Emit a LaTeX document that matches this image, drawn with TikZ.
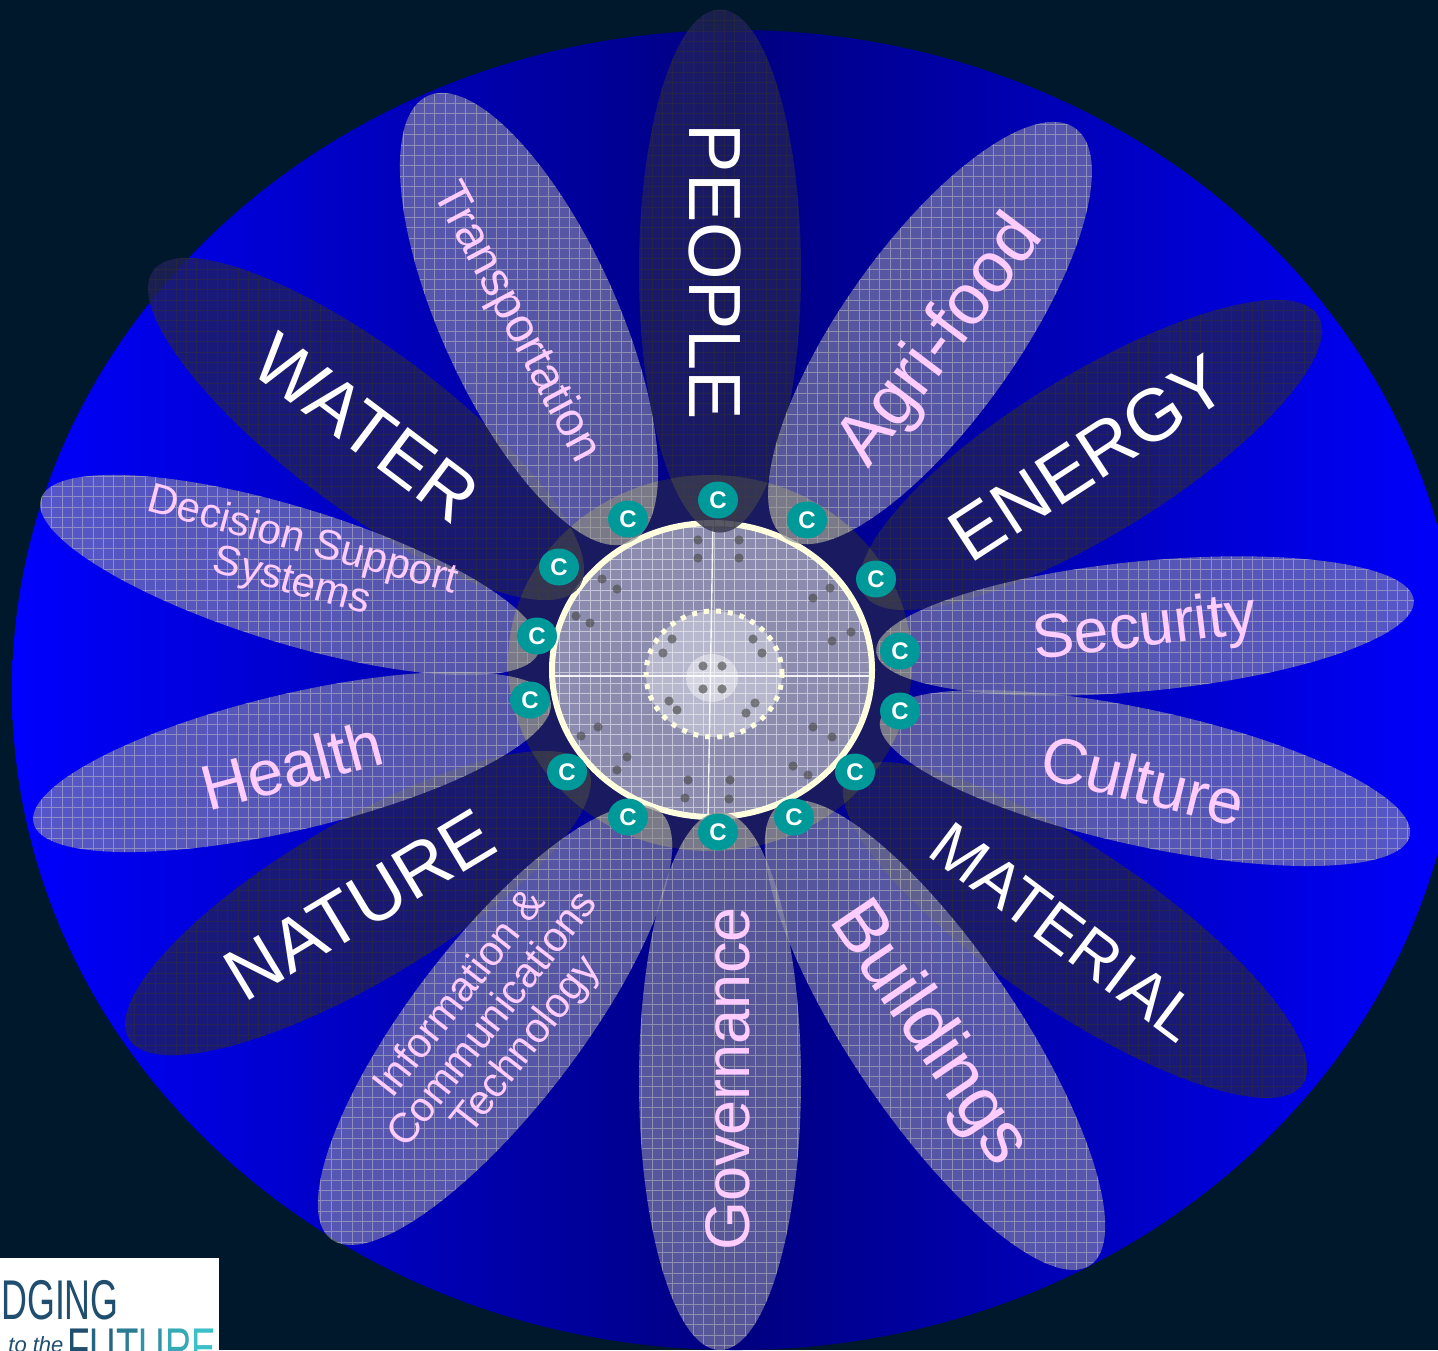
\documentclass[tikz,border=0pt]{standalone}
\usepackage{fontspec}
\setmainfont{Liberation Sans}
\usetikzlibrary{shapes.geometric}
\definecolor{nightbg}{HTML}{00182C}
\definecolor{navydisc}{HTML}{1A1A60}
\definecolor{tealdot}{HTML}{009999}
\definecolor{creamline}{HTML}{FFFFE0}
\definecolor{pinktext}{HTML}{FFCCFF}
\definecolor{logoblue}{HTML}{1F4E6E}
\definecolor{logocyan}{HTML}{3CC0C8}
\definecolor{lightfill}{HTML}{9090A8}
\definecolor{darkfill}{HTML}{22225A}
\definecolor{lightgrid}{HTML}{D0D0C8}
\definecolor{darkgrid}{HTML}{303030}
\definecolor{ringlight}{HTML}{A0A088}
\definecolor{ringdark}{HTML}{555548}
\newcommand{\petalpic}[4]{\pgftransformreset
  \draw[shift={(7.7,4.15)}, step=5.175pt, line width=0.4pt, draw=#1, draw opacity=#2] (-10.35,-10.35) grid (1438,1350);
  \fill[#3, fill opacity=#4] (710,663) ellipse [x radius=202, y radius=188];}
\begin{document}
\begin{tikzpicture}[x=0.5pt, y=-0.5pt]
\tikzstyle{lightpetal} = [ellipse, inner sep=0, fill=lightfill, fill opacity=0.6, path picture={\petalpic{lightgrid}{0.45}{ringlight}{0.4}}]
\tikzstyle{darkpetal} = [ellipse, inner sep=0, fill=darkfill, fill opacity=0.75, path picture={\petalpic{darkgrid}{0.5}{ringdark}{0.4}}]
\tikzstyle{bigtext} = [white, font=\fontsize{37}{37}\selectfont]
\tikzstyle{softtext} = [pinktext, align=center]
\tikzstyle{greydot} = [circle, inner sep=0, minimum size=4.6pt, fill=black!70, fill opacity=0.65]
\tikzstyle{tealbadge} = [ellipse, inner sep=0, minimum width=20pt, minimum height=18.5pt, fill=tealdot, text=white, font=\fontsize{12}{12}\selectfont\bfseries]
\useasboundingbox (0,0) rectangle (1438,1350);
\fill[nightbg] (0,0) rectangle (1438,1350);
% big disc
\shade[left color=blue, right color=blue, middle color=blue!50!black] (736,690) ellipse [x radius=724, y radius=660];
\fill[navydisc] (710,663) ellipse [x radius=202, y radius=188];
% hub
\node[ellipse, inner sep=0, minimum width=160pt, minimum height=147pt, draw=creamline, line width=3pt, fill=white, fill opacity=0.5, draw opacity=1, path picture={\pgftransformreset
  \draw[shift={(7.7,4.15)}, step=5.175pt, line width=0.4pt, white, draw opacity=0.5] (500,500) grid (900,840);
  \draw[white, line width=0.7pt, draw opacity=0.9] (713,520) -- (708,820);
  \draw[white, line width=0.7pt, draw opacity=0.9] (550,676) -- (875,676);}] (hub) at (712,670) {};
\node[ellipse, inner sep=0, minimum width=68pt, minimum height=63pt, draw=creamline, line width=2.5pt, dash pattern=on 2.5pt off 3.5pt, fill=white, fill opacity=0.38, draw opacity=1] (midhub) at (714,674) {};
\node[ellipse, inner sep=0, minimum width=26pt, minimum height=24pt, fill=white, fill opacity=0.42] (corehub) at (712,678) {};
% petals
\node[darkpetal, rotate=90, minimum width=261.5pt, minimum height=81pt] (people) at (720,271) {};
\node[darkpetal, rotate=31.5, minimum width=266.4pt, minimum height=80pt] (energy) at (1091,455) {};
\node[darkpetal, rotate=-34.1, minimum width=275pt, minimum height=80pt] (material) at (1075,930) {};
\node[darkpetal, rotate=30.6, minimum width=266.4pt, minimum height=80pt] (nature) at (358,903) {};
\node[darkpetal, rotate=-36.7, minimum width=265.3pt, minimum height=80pt] (water) at (366,429) {};
\node[lightpetal, rotate=-65.6, minimum width=245pt, minimum height=88pt] (transport) at (529,319) {};
\node[lightpetal, rotate=54.7, minimum width=251pt, minimum height=88pt] (agri) at (930,333) {};
\node[lightpetal, rotate=5.5, minimum width=270pt, minimum height=65pt] (security) at (1145,626) {};
\node[lightpetal, rotate=-12.3, minimum width=271pt, minimum height=68pt] (culture) at (1145,778) {};
\node[lightpetal, rotate=-56, minimum width=277.6pt, minimum height=84pt] (buildings) at (935,1035) {};
\node[lightpetal, rotate=90, minimum width=269pt, minimum height=81pt] (governance) at (720,1081) {};
\node[lightpetal, rotate=52.5, minimum width=269.6pt, minimum height=84pt] (ict) at (495,1025) {};
\node[lightpetal, rotate=13.3, minimum width=265.6pt, minimum height=68pt] (health) at (292,762) {};
\node[lightpetal, rotate=-17, minimum width=260.5pt, minimum height=68pt] (dss) at (290,575) {};
% dots
\node[greydot] (d1) at (703,666) {};
\node[greydot] (d2) at (722,666) {};
\node[greydot] (d3) at (703,689) {};
\node[greydot] (d4) at (722,689) {};
\node[greydot] (d5) at (672,639) {};
\node[greydot] (d6) at (663,653) {};
\node[greydot] (d7) at (753,639) {};
\node[greydot] (d8) at (762,653) {};
\node[greydot] (d9) at (669,701) {};
\node[greydot] (d10) at (677,710) {};
\node[greydot] (d11) at (755,703) {};
\node[greydot] (d12) at (746,713) {};
\node[greydot] (d13) at (698,540) {};
\node[greydot] (d14) at (698,558) {};
\node[greydot] (d15) at (739,540) {};
\node[greydot] (d16) at (739,558) {};
\node[greydot] (d17) at (602,579) {};
\node[greydot] (d18) at (617,589) {};
\node[greydot] (d19) at (576,616) {};
\node[greydot] (d20) at (590,623) {};
\node[greydot] (d21) at (830,588) {};
\node[greydot] (d22) at (813,598) {};
\node[greydot] (d23) at (851,632) {};
\node[greydot] (d24) at (832,641) {};
\node[greydot] (d25) at (598,727) {};
\node[greydot] (d26) at (581,736) {};
\node[greydot] (d27) at (627,757) {};
\node[greydot] (d28) at (617,770) {};
\node[greydot] (d29) at (688,780) {};
\node[greydot] (d30) at (685,798) {};
\node[greydot] (d31) at (730,780) {};
\node[greydot] (d32) at (729,799) {};
\node[greydot] (d33) at (813,727) {};
\node[greydot] (d34) at (832,737) {};
\node[greydot] (d35) at (793,766) {};
\node[greydot] (d36) at (808,775) {};
% badges
\node[tealbadge] (b1) at (718,500) {C};
\node[tealbadge] (b2) at (807,520) {C};
\node[tealbadge] (b3) at (876,579) {C};
\node[tealbadge] (b4) at (900,651) {C};
\node[tealbadge] (b5) at (900,711) {C};
\node[tealbadge] (b6) at (855,772) {C};
\node[tealbadge] (b7) at (794,817) {C};
\node[tealbadge] (b8) at (718,832) {C};
\node[tealbadge] (b9) at (628,817) {C};
\node[tealbadge] (b10) at (567,772) {C};
\node[tealbadge] (b11) at (530,700) {C};
\node[tealbadge] (b12) at (537,636) {C};
\node[tealbadge] (b13) at (559,567) {C};
\node[tealbadge] (b14) at (628,519) {C};
% labels
\node[bigtext, rotate=-90] (peoplelabel) at (715,272) {PEOPLE};
\node[bigtext, rotate=33] (energylabel) at (1088,458) {ENERGY};
\node[bigtext, rotate=-37, font=\fontsize{32}{32}\selectfont] (materiallabel) at (1065,932) {MATERIAL};
\node[bigtext, rotate=31] (naturelabel) at (360,905) {NATURE};
\node[bigtext, rotate=-37] (waterlabel) at (366,428) {WATER};
\node[softtext, rotate=-62, font=\fontsize{24}{24}\selectfont] (transportlabel) at (516,323) {Transportation};
\node[softtext, rotate=53, font=\fontsize{36}{36}\selectfont] (agrilabel) at (942,342) {Agri-food};
\node[softtext, rotate=7, font=\fontsize{31}{31}\selectfont] (securitylabel) at (1145,630) {Security};
\node[softtext, rotate=-14, font=\fontsize{32}{32}\selectfont] (culturelabel) at (1143,780) {Culture};
\node[softtext, rotate=-56, font=\fontsize{37}{37}\selectfont] (buildingslabel) at (928,1034) {Buildings};
\node[softtext, rotate=90, font=\fontsize{31.5}{31.5}\selectfont] (governancelabel) at (728,1079) {Governance};
\node[softtext, rotate=52, font=\fontsize{21}{21}\selectfont] (ictlabel) at (494,1020) {Information \&\\Communications\\Technology};
\node[softtext, rotate=15, font=\fontsize{32}{32}\selectfont] (healthlabel) at (292,765) {Health};
\node[softtext, rotate=-15, font=\fontsize{21}{21}\selectfont] (dsslabel) at (297,562) {Decision Support\\Systems};
% logo
\node[anchor=north west, inner sep=0, minimum width=109.5pt, minimum height=46pt, fill=white] (logobox) at (0,1258) {};
\node[anchor=west, inner sep=0, logoblue, font=\fontsize{28}{28}\selectfont, xscale=0.64] (logotop) at (1,1300) {DGING};
\node[anchor=west, inner sep=0, logoblue, font=\fontsize{11}{11}\selectfont\itshape] (logothe) at (8,1345) {to the};
\node[anchor=west, inner sep=0, font=\fontsize{28}{28}\selectfont, xscale=0.655] (logolow) at (67,1348) {\textcolor{logoblue}{F}\textcolor{logocyan!20!logoblue}{U}\textcolor{logocyan!40!logoblue}{T}\textcolor{logocyan!60!logoblue}{U}\textcolor{logocyan!80!logoblue}{R}\textcolor{logocyan}{E}};
\end{tikzpicture}
\end{document}
